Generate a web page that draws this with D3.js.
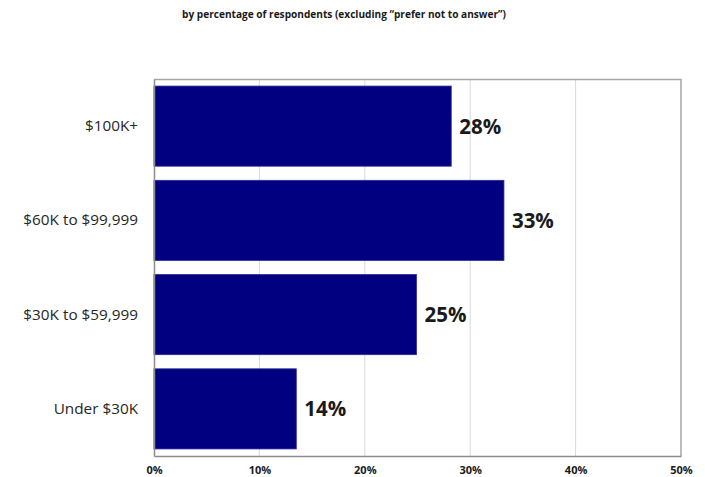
<!DOCTYPE html>
<html>
<head>
<meta charset="utf-8">
<script src="https://cdn.jsdelivr.net/npm/d3@7"></script>
<style>
  html, body { margin: 0; padding: 0; background: #fff; }
  svg { display: block; }
</style>
</head>
<body>
<svg id="chart" width="705" height="477"></svg>
<script>
// Household income brackets, top to bottom
const categories = ["$100K+", "$60K to $99,999", "$30K to $59,999", "Under $30K"];
// Share of respondents, percent
const shares = [28.2, 33.2, 24.9, 13.5];
// Horizontal axis ticks, percent
const tickValues = [0, 10, 20, 30, 40, 50];
const subtitle = "by percentage of respondents (excluding \u201cprefer not to answer\u201d)";

const svg = d3.select("#chart");
const margin = { top: 79, right: 24, bottom: 21, left: 154 };
const W = 705, H = 477;
const iw = W - margin.left - margin.right;
const ih = H - margin.top - margin.bottom;

const font = "'Open Sans', 'Noto Sans', sans-serif";

svg.append("text")
  .attr("x", 344).attr("y", 18)
  .attr("text-anchor", "middle")
  .attr("font-family", font)
  .attr("font-weight", 700)
  .attr("font-size", 10.1)
  .attr("fill", "#1a1a1a")
  .text(subtitle);

const g = svg.append("g").attr("transform", `translate(${margin.left},${margin.top})`);

const x = d3.scaleLinear().domain([0, 50]).range([0, iw]);
const y = d3.scaleBand().domain(categories).range([0, ih]).paddingInner(0.15).paddingOuter(0.075);

// vertical gridlines
g.selectAll("line.grid")
  .data(tickValues.filter(t => t > 0 && t < 50))
  .join("line")
  .attr("class", "grid")
  .attr("x1", d => x(d)).attr("x2", d => x(d))
  .attr("y1", 0).attr("y2", ih)
  .attr("stroke", "#d9d9d9").attr("stroke-width", 1);

// plot frame: top and right
g.append("path")
  .attr("d", `M0,0.5H${iw}V${ih}`)
  .attr("fill", "none")
  .attr("stroke", "#a6a6a6").attr("stroke-width", 1.5);

// bars
g.selectAll("rect.bar")
  .data(categories)
  .join("rect")
  .attr("class", "bar")
  .attr("x", 0)
  .attr("y", d => y(d))
  .attr("width", (d, i) => x(shares[i]))
  .attr("height", y.bandwidth())
  .attr("fill", "#000080")
  .attr("stroke", "#2a2a9a").attr("stroke-width", 0.8);

// value labels
g.selectAll("text.val")
  .data(categories)
  .join("text")
  .attr("class", "val")
  .attr("x", (d, i) => x(shares[i]) + 8)
  .attr("y", d => y(d) + y.bandwidth() / 2)
  .attr("dy", "0.36em")
  .attr("font-family", font)
  .attr("font-weight", 700)
  .attr("font-size", 20.5)
  .attr("fill", "#1a1a1a")
  .text((d, i) => Math.round(shares[i]) + "%");

// left axis: category labels
const yAxis = g.append("g").call(d3.axisLeft(y).tickSize(0).tickPadding(16));
yAxis.select(".domain").attr("stroke", "#8c8c8c").attr("stroke-width", 1.5);
yAxis.selectAll("text")
  .attr("font-family", font)
  .attr("font-size", 15.3)
  .attr("fill", "#262626");

// bottom axis
const xAxis = g.append("g")
  .attr("transform", `translate(0,${ih})`)
  .call(d3.axisBottom(x).tickValues(tickValues).tickSize(0).tickPadding(10).tickFormat(d => d + "%"));
xAxis.select(".domain").attr("stroke", "#8c8c8c").attr("stroke-width", 1.5);
xAxis.selectAll("text")
  .attr("font-family", font)
  .attr("font-weight", 700)
  .attr("font-size", 11)
  .attr("fill", "#1a1a1a");
</script>
</body>
</html>
